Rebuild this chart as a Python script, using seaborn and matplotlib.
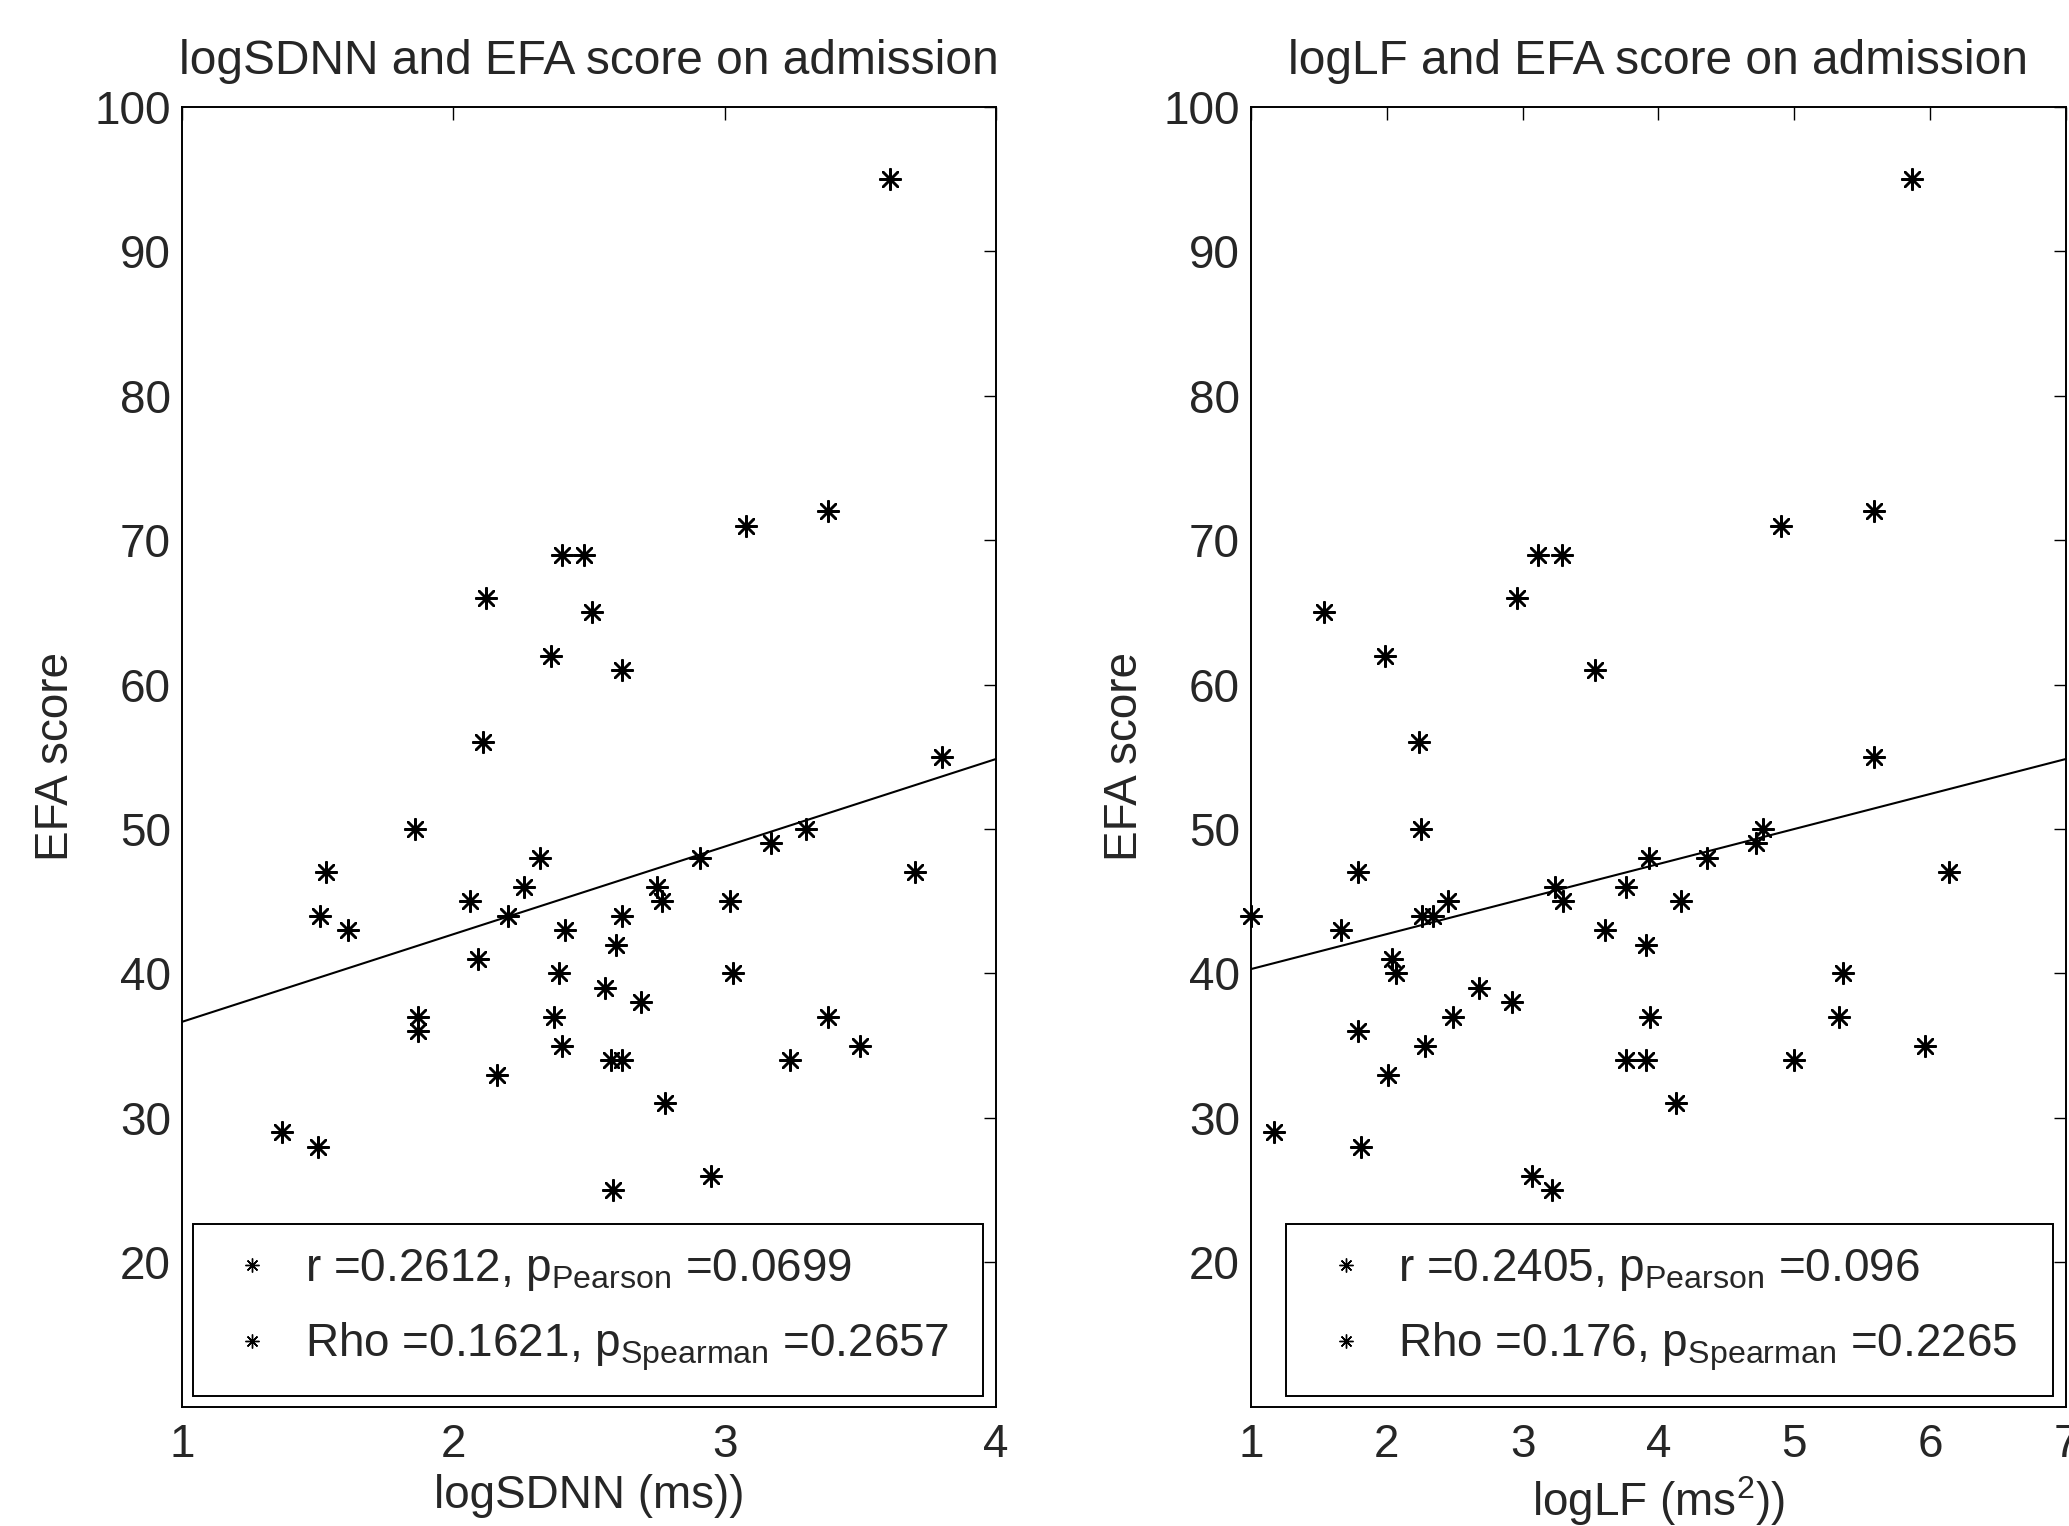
import matplotlib
matplotlib.use('Agg')
import matplotlib.pyplot as plt
from matplotlib.lines import Line2D
import seaborn as sns

# EFA score on admission (same patients in both panels)
efa_score = [95, 72, 71, 69, 69, 66, 65, 62, 61, 56, 55, 50, 50, 49, 48, 48,
             47, 47, 46, 46, 45, 45, 45, 44, 44, 44, 43, 43, 42, 41, 40, 40,
             39, 38, 37, 37, 37, 36, 35, 35, 34, 34, 34, 33, 31, 29, 28, 26, 25]
log_sdnn = [3.61, 3.38, 3.08, 2.40, 2.48, 2.12, 2.51, 2.36, 2.62, 2.11, 3.80,
            1.86, 3.30, 3.17, 2.32, 2.91, 1.53, 3.70, 2.26, 2.75, 2.06, 2.77,
            3.02, 1.51, 2.20, 2.62, 1.61, 2.41, 2.60, 2.09, 2.39, 3.03, 2.56,
            2.69, 1.87, 2.37, 3.38, 1.87, 2.40, 3.50, 2.58, 2.62, 3.24, 2.16,
            2.78, 1.37, 1.50, 2.95, 2.59]
log_lf = [5.87, 5.585, 4.90, 3.11, 3.29, 2.96, 1.54, 1.99, 3.53, 2.24, 5.59,
          2.25, 4.77, 4.72, 3.93, 4.36, 1.79, 6.14, 3.24, 3.76, 2.45, 3.30,
          4.17, 1.00, 2.26, 2.34, 1.66, 3.61, 3.91, 2.04, 2.07, 5.36, 2.68,
          2.92, 2.49, 3.94, 5.33, 1.79, 2.28, 5.96, 3.76, 3.91, 5.00, 2.01,
          4.13, 1.17, 1.81, 3.07, 3.22]

# regression lines (end points)
sdnn_fit_x = [1, 4]
sdnn_fit_y = [36.65, 54.85]
lf_fit_x = [1, 7]
lf_fit_y = [40.3, 54.85]

sdnn_labels = [r'r =0.2612, p$_{\rm Pearson}$ =0.0699',
               r'Rho =0.1621, p$_{\rm Spearman}$ =0.2657']
lf_labels = [r'r =0.2405, p$_{\rm Pearson}$ =0.096',
             r'Rho =0.176, p$_{\rm Spearman}$ =0.2265']

sns.set_style('white')
plt.rcParams['font.family'] = ['Liberation Sans', 'DejaVu Sans']
plt.rcParams['mathtext.fontset'] = 'custom'
plt.rcParams['mathtext.rm'] = 'Liberation Sans'
plt.rcParams['mathtext.it'] = 'Liberation Sans:italic'
plt.rcParams['mathtext.bf'] = 'Liberation Sans:bold'

FS = 33
star = (8, 2, 0)

fig = plt.figure(figsize=(20.69, 15.26), dpi=100)
ax1 = fig.add_axes([0.088, 0.0782, 0.3934, 0.8517])
ax2 = fig.add_axes([0.6046, 0.0782, 0.3939, 0.8517])


def panneau(ax, x, fit_x, fit_y, xlim, title, xlabel, labels, leg_x0):
    sns.scatterplot(x=x, y=efa_score, ax=ax, marker=star, s=220, color='k',
                    linewidth=1.8, clip_on=False, zorder=3)
    sns.lineplot(x=fit_x, y=fit_y, ax=ax, color='k', linewidth=1.5)
    ax.set_xlim(*xlim)
    ax.set_ylim(10, 100)
    ax.set_xticks(range(xlim[0], xlim[1] + 1))
    ax.set_yticks(range(20, 101, 10))
    ax.tick_params(direction='in', top=True, right=True, length=9, width=1,
                   labelsize=FS, color='k')
    ax.tick_params(axis='y', pad=8)
    ax.tick_params(axis='x', pad=12)
    for sp in ax.spines.values():
        sp.set_color('k')
        sp.set_linewidth(1.4)
    ax.set_title(title, fontsize=34.5, pad=24)
    ax.set_xlabel(xlabel, fontsize=FS, labelpad=5)
    ax.set_ylabel('EFA score', fontsize=FS, labelpad=12)
    handles = [Line2D([], [], linestyle='none', marker=star, color='k',
                      markersize=10, markeredgewidth=1.0) for _ in labels]
    leg = ax.legend(handles, labels, loc='lower left',
                    bbox_to_anchor=(leg_x0, 0.008, 0.984 - leg_x0, 0.13),
                    mode='expand', borderaxespad=0, fontsize=FS,
                    handlelength=1.6, handletextpad=0.35, borderpad=0.5,
                    labelspacing=0.6, fancybox=False, framealpha=1)
    leg.get_frame().set_edgecolor('k')
    leg.get_frame().set_linewidth(1.4)


panneau(ax1, log_sdnn, sdnn_fit_x, sdnn_fit_y, (1, 4),
        'logSDNN and EFA score on admission', 'logSDNN (ms))',
        sdnn_labels, 0.013)
panneau(ax2, log_lf, lf_fit_x, lf_fit_y, (1, 7),
        'logLF and EFA score on admission', r'logLF (ms$^{2}$))',
        lf_labels, 0.043)

fig.savefig('out.png', dpi=100)
